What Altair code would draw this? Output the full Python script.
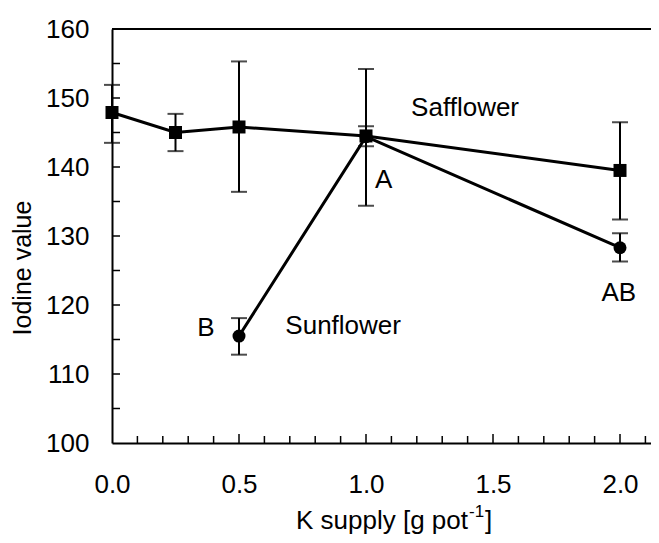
import altair as alt
import pandas as pd

# ---- data ----
saff_k = [0.0, 0.25, 0.5, 1.0, 2.0]
saff_iodine = [147.9, 145.0, 145.8, 144.5, 139.5]
saff_low = [143.5, 142.3, 136.4, 134.4, 132.4]
saff_high = [151.9, 147.7, 155.3, 154.2, 146.5]

sun_k = [0.5, 1.0, 2.0]
sun_iodine = [115.5, 144.4, 128.3]
sun_low = [112.8, 143.0, 126.3]
sun_high = [118.1, 145.9, 130.4]

note_text = ["Safflower", "Sunflower", "A", "B", "AB"]
note_k = [1.39, 0.91, 1.07, 0.37, 1.995]
note_iodine = [148.6, 116.9, 138.1, 116.7, 121.7]

x_label_values = [0.0, 0.5, 1.0, 1.5, 2.0]
x_minor_ticks = [0.1, 0.2, 0.3, 0.4, 0.6, 0.7, 0.8, 0.9, 1.1, 1.2, 1.3, 1.4,
                 1.6, 1.7, 1.8, 1.9, 2.1]
x_major_ticks = [0.5, 1.0, 1.5, 2.0]
y_label_values = [100, 110, 120, 130, 140, 150, 160]
y_ticks = [105, 110, 115, 120, 125, 130, 135, 140, 145, 150, 155]

W, H = 539, 414
FONT = "Liberation Sans"

saff = pd.DataFrame({"k": saff_k, "iod": saff_iodine, "lo": saff_low, "hi": saff_high})
sun = pd.DataFrame({"k": sun_k, "iod": sun_iodine, "lo": sun_low, "hi": sun_high})
notes = pd.DataFrame({"t": note_text, "k": note_k, "iod": note_iodine})

xs = alt.Scale(domain=[0, 2.122], nice=False, zero=False)
ys = alt.Scale(domain=[100, 160], nice=False, zero=False)

xax = alt.Axis(values=x_label_values, format=".1f", ticks=False, tickSize=0, grid=False,
               domainColor="black", domainWidth=2, labelFont=FONT, labelFontSize=26,
               labelColor="black", labelPadding=28, labelFlush=False, labelOverlap=False,
               title=None)
yax = alt.Axis(values=y_label_values, format="d", ticks=False, tickSize=0, grid=False,
               domainColor="black", domainWidth=2, labelFont=FONT, labelFontSize=26,
               labelColor="black", labelPadding=23, labelOverlap=False, title=None)


def series(df, shape):
    bars = alt.Chart(df).mark_rule(color="black", strokeWidth=2).encode(
        x=alt.X("k:Q", scale=xs, axis=xax), y=alt.Y("lo:Q", scale=ys, axis=yax), y2="hi:Q")
    cap_lo = alt.Chart(df).mark_tick(color="black", orient="horizontal", size=16,
                                     thickness=2).encode(
        x=alt.X("k:Q", scale=xs), y=alt.Y("lo:Q", scale=ys))
    cap_hi = alt.Chart(df).mark_tick(color="black", orient="horizontal", size=16,
                                     thickness=2).encode(
        x=alt.X("k:Q", scale=xs), y=alt.Y("hi:Q", scale=ys))
    line = alt.Chart(df).mark_line(color="black", strokeWidth=3).encode(
        x=alt.X("k:Q", scale=xs), y=alt.Y("iod:Q", scale=ys), order="k:Q")
    pts = alt.Chart(df).mark_point(shape=shape, filled=True, color="black", size=169,
                                   opacity=1).encode(
        x=alt.X("k:Q", scale=xs), y=alt.Y("iod:Q", scale=ys))
    return [bars, cap_lo, cap_hi, line, pts]


xt_minor = alt.Chart(pd.DataFrame({"k": x_minor_ticks})).mark_rule(
    color="black", strokeWidth=1.5).encode(
    x=alt.X("k:Q", scale=xs), y=alt.value(H), y2=alt.value(H - 7))
xt_major = alt.Chart(pd.DataFrame({"k": x_major_ticks})).mark_rule(
    color="black", strokeWidth=1.5).encode(
    x=alt.X("k:Q", scale=xs), y=alt.value(H), y2=alt.value(H - 9))
yt = alt.Chart(pd.DataFrame({"v": y_ticks})).mark_rule(
    color="black", strokeWidth=1.5).encode(
    y=alt.Y("v:Q", scale=ys), x=alt.value(0), x2=alt.value(8))
top = alt.Chart(pd.DataFrame({"v": [160]})).mark_rule(
    color="black", strokeWidth=2).encode(
    y=alt.Y("v:Q", scale=ys), x=alt.value(0), x2=alt.value(W))

note_layer = alt.Chart(notes).mark_text(font=FONT, fontSize=26, color="black",
                                         align="center", baseline="middle").encode(
    x=alt.X("k:Q", scale=xs), y=alt.Y("iod:Q", scale=ys), text="t:N")

one = pd.DataFrame({"a": [0]})
ytitle = alt.Chart(one).mark_text(font=FONT, fontSize=25, color="black", angle=270,
                                   align="center", baseline="middle").encode(
    x=alt.value(-89), y=alt.value(239), text=alt.value("Iodine value"))
xtitle_main = alt.Chart(one).mark_text(font=FONT, fontSize=26, color="black",
                                        align="right", baseline="alphabetic").encode(
    x=alt.value(356), y=alt.value(500), text=alt.value("K supply [g pot"))
xtitle_sup = alt.Chart(one).mark_text(font=FONT, fontSize=17, color="black",
                                       align="left", baseline="alphabetic").encode(
    x=alt.value(357), y=alt.value(488), text=alt.value("-1"))
xtitle_end = alt.Chart(one).mark_text(font=FONT, fontSize=26, color="black",
                                       align="left", baseline="alphabetic").encode(
    x=alt.value(373), y=alt.value(500), text=alt.value("]"))

layers = series(saff, "square") + series(sun, "circle")
chart = alt.layer(
    *layers, xt_minor, xt_major, yt, top, note_layer, ytitle, xtitle_main, xtitle_sup,
    xtitle_end
).properties(
    width=W, height=H,
    autosize=alt.AutoSizeParams(type="none"),
    padding={"left": 104, "top": 21, "right": 0, "bottom": 92},
    background="white",
).configure_view(stroke=None)

chart.save("out.html", embed_options={"renderer": "svg", "actions": False})
